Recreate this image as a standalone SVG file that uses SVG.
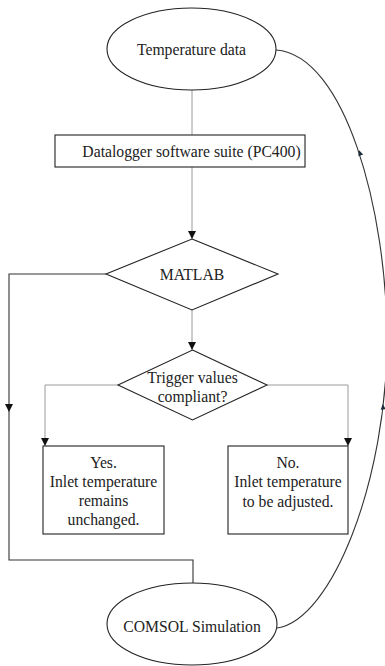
<svg xmlns="http://www.w3.org/2000/svg" width="385" height="666" viewBox="0 0 385 666">
<style>
.shape{fill:#fff;stroke:#222;stroke-width:1.1}
.t{font-family:"Liberation Serif","Times New Roman",serif;font-size:15.7px;fill:#222;text-anchor:middle}
.g{fill:none;stroke:#9a9a9a;stroke-width:1}
.k{fill:none;stroke:#333;stroke-width:1.1}
.m{fill:#1b2d3d}
</style>
<defs>
<marker id="arr" viewBox="0 0 10 10" refX="10" refY="5" markerWidth="8" markerHeight="8" markerUnits="userSpaceOnUse" orient="auto">
<path d="M0,0 L10,5 L0,10 z" fill="#111"/>
</marker>
<path id="tick" d="M-2.5,-2.5 L3,0 L-2.5,2.5 z"/>
</defs>
<g id="connectors">
<path class="g" d="M192,90 V135"/>
<path class="g" d="M192,167 V239" marker-end="url(#arr)"/>
<path class="g" d="M192,310 V350" marker-end="url(#arr)"/>
<path class="g" d="M118,385 H45 V446" marker-end="url(#arr)"/>
<path class="g" d="M267,385 H348 V446" marker-end="url(#arr)"/>
<path class="k" d="M106,274 H9 V412" marker-end="url(#arr)"/>
<path class="k" d="M9,412 V560 H193 V583"/>
<path class="k" d="M277,628 C332,620 387,480 387,340 C387,210 345,55 276,50"/>
<use href="#tick" class="m" transform="translate(383,407) rotate(-95)"/>
<use href="#tick" class="m" transform="translate(360,153) rotate(-108)"/>
</g>
<g id="temperature-data">
<ellipse class="shape" cx="191.5" cy="49" rx="84.5" ry="41"/>
<text class="t" x="191.5" y="54.5">Temperature data</text>
</g>
<g id="datalogger">
<rect class="shape" x="55" y="135" width="250" height="32"/>
<text class="t" x="191.5" y="156.5">Datalogger software suite (PC400)</text>
</g>
<g id="matlab">
<polygon class="shape" points="192,239 278,274 192,310 106,274"/>
<text class="t" x="192" y="280">MATLAB</text>
</g>
<g id="trigger">
<polygon class="shape" points="192.5,350 267,385 192.5,420 118,385"/>
<text class="t" x="192.5" y="383">Trigger values</text>
<text class="t" x="192.5" y="402">compliant?</text>
</g>
<g id="yes">
<rect class="shape" x="43" y="446" width="121" height="88"/>
<text class="t" x="103.5" y="468">Yes.</text>
<text class="t" x="103.5" y="487">Inlet temperature</text>
<text class="t" x="103.5" y="506">remains</text>
<text class="t" x="103.5" y="525">unchanged.</text>
</g>
<g id="no">
<rect class="shape" x="228" y="446" width="120" height="88"/>
<text class="t" x="288" y="468">No.</text>
<text class="t" x="288" y="487">Inlet temperature</text>
<text class="t" x="288" y="506.5">to be adjusted.</text>
</g>
<g id="comsol">
<ellipse class="shape" cx="192" cy="624" rx="85" ry="41"/>
<text class="t" x="192" y="632">COMSOL Simulation</text>
</g>
</svg>
